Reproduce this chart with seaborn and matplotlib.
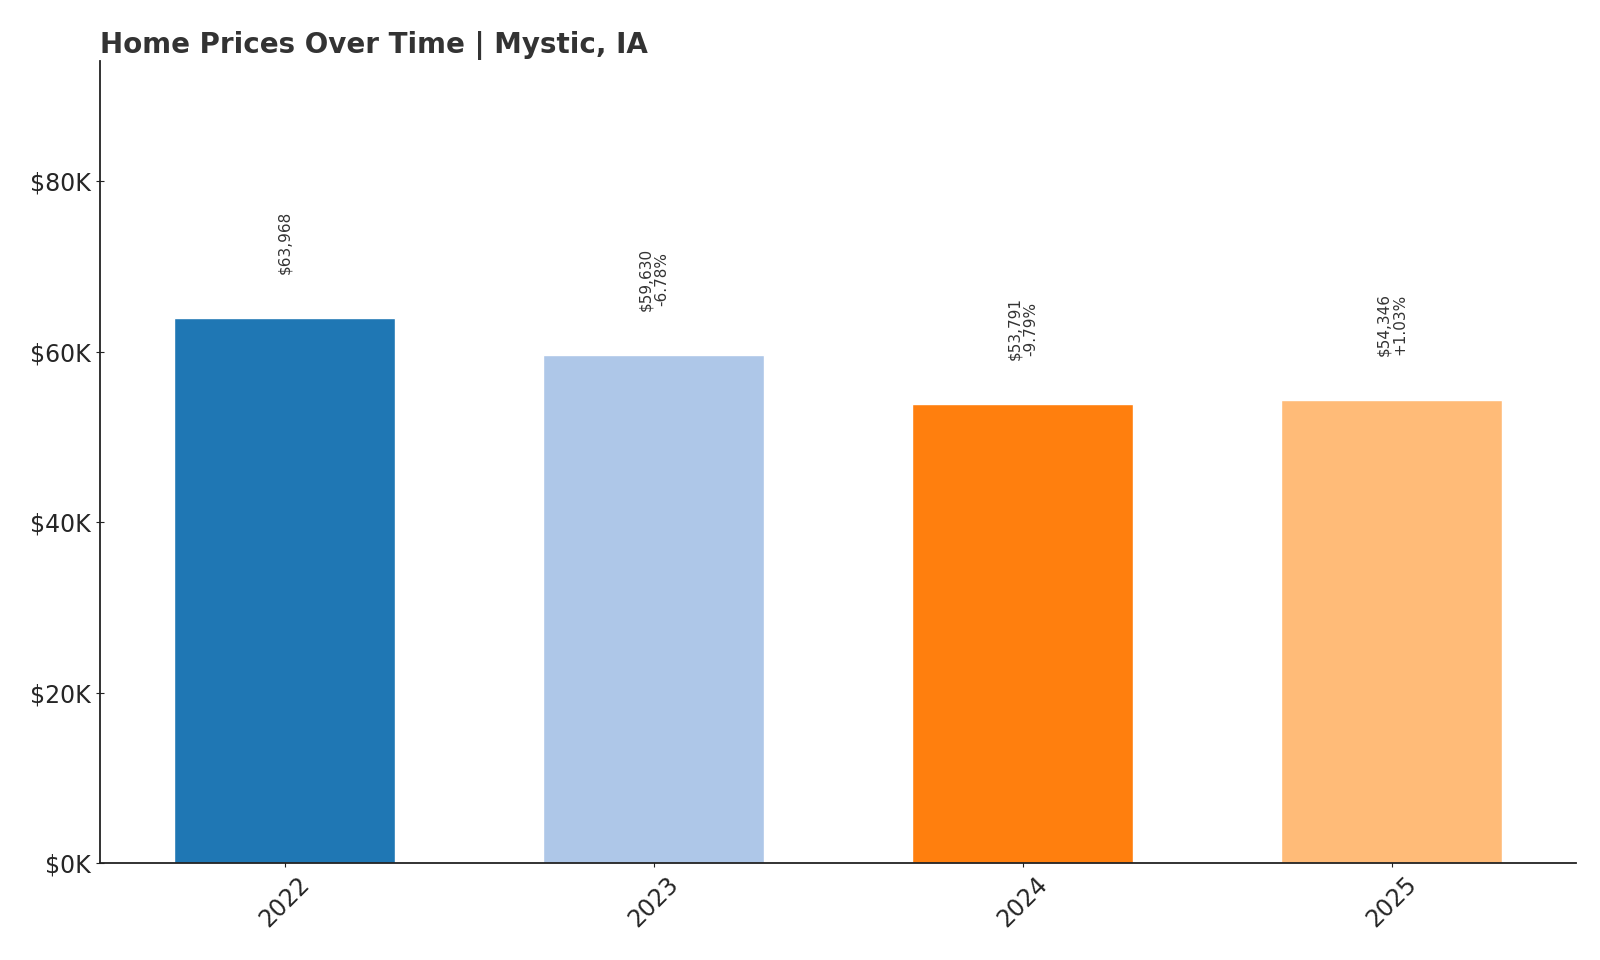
import matplotlib
matplotlib.use("Agg")
import matplotlib.pyplot as plt
import seaborn as sns
import pandas as pd

years = ["2022", "2023", "2024", "2025"]
prices = [63968, 59630, 53791, 54346]
changes = ["", "-6.78%", "-9.79%", "+1.03%"]
colors = ["#1f77b4", "#aec7e8", "#ff7f0e", "#ffbb78"]

sns.set_style("ticks")
plt.rcParams['font.family'] = ['DejaVu Sans']
df = pd.DataFrame({"year": years, "price": prices})
fig, ax = plt.subplots(figsize=(16, 9.6), dpi=100)
fig.subplots_adjust(left=0.0625, right=0.985, top=0.936, bottom=0.101)
sns.barplot(data=df, x="year", y="price", hue="year", palette=colors, width=0.6, legend=False, ax=ax, saturation=1)
ymax = max(prices) * 1.47
ax.set_ylim(0, ymax)
for i, (p, c) in enumerate(zip(prices, changes)):
    txt = f"${p:,}" + (f"\n{c}" if c else "")
    ax.text(i, p + ymax * 0.055, txt, rotation=90, ha="center", va="bottom", fontsize=11, color="#333333", linespacing=1.1)
ax.set_yticks([0, 20000, 40000, 60000, 80000])
ax.set_yticklabels(["$0K", "$20K", "$40K", "$60K", "$80K"], fontsize=17)
ax.tick_params(axis="x", labelsize=17, rotation=45, length=6, direction="inout", color="#222222")
ax.tick_params(axis="y", length=6, direction="inout", color="#222222")
for s in ["top", "right"]:
    ax.spines[s].set_visible(False)
for s in ["left", "bottom"]:
    ax.spines[s].set_color("#222222")
    ax.spines[s].set_linewidth(1.3)
ax.set_xlabel("")
ax.set_ylabel("")
ax.set_title("Home Prices Over Time | Mystic, IA", loc="left", fontsize=20, fontweight="bold", color="#333333")
fig.savefig("out.png", dpi=100)
